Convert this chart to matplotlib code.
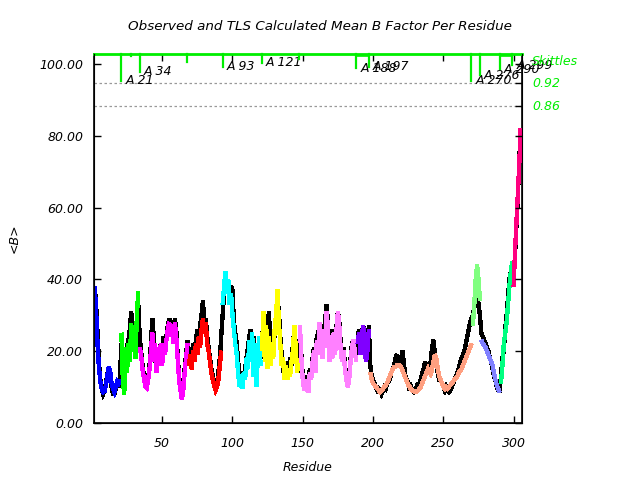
import numpy as np
from matplotlib import pyplot as plt

plt.rcParams['font.family'] = ['DejaVu Sans']
plt.rcParams['font.style'] = 'italic'

# residues 2..305
residues = np.arange(2, 306)

# observed mean B per residue (black)
b_observed = [
    38, 33, 25, 17, 12, 9.5, 8, 9, 11, 13.5, 15, 13, 10, 8, 8, 9.5, 11, 10, 13,
    22, 13, 10, 19, 21, 23, 26, 31, 24, 20, 22, 28, 33,
    24, 20, 16, 13, 11, 10, 12, 16, 22, 29, 24, 18, 15, 21, 20, 22, 18, 24, 22, 24,
    27, 29, 28, 26, 24, 29, 26, 19, 13, 10, 8, 10, 15, 19, 23,
    18, 21, 17, 22, 19, 23, 26, 23, 27, 30, 34, 27, 29, 24, 21, 18, 15, 13, 11, 10,
    11, 14, 18, 24,
    30, 36, 40, 38, 39, 35, 38, 37, 28, 25, 22, 17, 14, 11, 11, 13, 15, 18, 21, 24,
    26, 22, 24, 18, 13, 19, 23, 18,
    22, 29, 26, 17, 28, 31, 18, 23, 19, 25, 29, 35, 31, 24, 19, 15, 13, 14, 17, 15,
    18, 16, 22, 26, 22, 17, 14,
    25, 19, 13, 10, 11, 13, 10, 15, 13, 18, 21, 18, 24, 25, 27, 24, 21, 25, 29, 33,
    27, 22, 19, 23, 26, 22, 27, 31, 28, 22, 18, 21, 16, 13, 11, 13, 18, 22, 23, 21, 19,
    23, 26, 21, 25, 27, 23, 19, 22, 27,
    16, 13, 12, 11, 10, 9, 9.5, 9, 8, 9, 10, 9.5, 11, 11.5, 12, 14, 15, 16, 18, 19,
    17, 16, 18, 20, 16, 13, 12, 11, 9, 10, 9, 8.5, 9, 10, 9, 11, 12, 14, 15, 17,
    16, 15, 14, 17, 21, 23, 19, 16, 14, 12, 12, 11, 10, 9, 10, 9, 8.5, 9, 10, 11,
    12, 13, 14, 15, 17, 18, 19, 20, 22, 24, 26, 28, 29,
    30, 32, 36, 38, 33, 30,
    25, 24, 23, 22, 21, 20, 18, 17, 15, 13, 12, 10, 9, 9,
    13, 18, 20, 26, 30, 35, 40, 42, 44,
    40, 47, 55, 63, 73, 82,
]

# TLS calculated mean B per residue (coloured by segment)
b_tls = [
    38, 31, 22, 15.5, 11.5, 9.5, 8.5, 8.8, 10.5, 13, 15.6, 14.5, 11, 9.5, 8.5, 10, 11.5, 11, 12,
    25, 12, 8, 21, 14, 22, 17, 27.5, 20, 24, 18, 30, 36.5,
    21, 19, 15, 12.5, 10, 9.6, 12, 15, 20, 25, 17, 22, 14, 20, 16, 22, 16, 22, 19, 23,
    26, 28, 24, 27, 22, 28, 24, 18, 12, 9, 6.5, 9, 14, 18, 22,
    16, 19, 15, 20, 17, 22, 19, 24, 21, 26, 29, 25, 28, 22, 20, 17, 14, 12, 10.5, 9,
    10, 12, 16, 20,
    33, 38, 42, 36, 40, 33, 36, 30, 26, 22, 19, 14, 10, 13, 9.5, 14, 12, 18, 15, 23,
    17, 25, 13, 22, 10, 18, 24, 16,
    20, 31, 17, 27, 15, 24, 16, 22, 18, 26, 30, 37, 28, 22, 16, 18, 12, 16, 12, 15,
    13, 17, 20, 27, 21, 14, 18,
    27, 18, 12, 9, 10, 12, 8.5, 14, 12, 17, 20, 14, 23, 19, 28, 23, 18, 26, 21, 31,
    26, 17, 22, 18, 25, 19, 26, 31, 27, 20, 17, 20, 15, 12, 10, 12, 17, 21, 23, 20, 17,
    22, 25, 19, 24, 27, 21, 17, 20, 26,
    14, 12, 11, 10.5, 10, 9.5, 9, 8.5, 8.8, 9.5, 10, 10.5, 11, 12, 13, 14, 15, 15.5, 15.5, 16,
    16, 16, 15.5, 14.5, 13.5, 12.5, 11.5, 10.5, 10, 9.3, 9, 8.8, 8.6, 8.7, 9, 9.5, 10, 11, 12, 13,
    14, 15, 14, 13.5, 15, 17, 19, 18, 15, 13, 12, 11, 10, 9.5, 10, 9.5, 10, 10.5, 11, 11.5,
    12, 12.5, 13, 14, 14.5, 15, 16, 17, 18, 19, 20, 21, 22,
    27, 33, 40, 44, 40, 34,
    23, 22, 21.5, 21, 20, 19, 18, 17, 16, 14, 12, 10.5, 9.5, 8.5,
    11, 16, 22, 25, 28, 33, 38, 42, 45,
    38, 48, 56, 64, 72, 82,
]

# first residue of each TLS segment, and segment colours
seg_first = [2, 21, 34, 69, 93, 121, 148, 189, 198, 271, 277, 291, 300, 306]
seg_colors = ['#0000ff', '#00ff00', '#ff00ff', '#ff0000', '#00ffff', '#ffff00',
              '#ff80ff', '#8000ff', '#ff9f80', '#80ff80', '#8080ff', '#00ff80', '#ff0080']

# skittles: boundary residue, lower end of the marker, label
skittle_res = [21, 28, 34, 68, 93, 121, 147, 188, 197, 270, 276, 290, 299]
skittle_low = [95.3, 102.2, 97.9, 100.6, 99.2, 100.3, 101.4, 98.8, 99.2, 95.3, 96.9, 98.5, 99.7]
skittle_lbl = ['A 21', '', 'A 34', '', 'A 93', 'A 121', '', 'A 188', 'A 197',
               'A 270', 'A 276', 'A 290', 'A 299']
skittle_pairs = [(188, 197), (290, 299)]

# dotted threshold lines
thresh_y = [94.6, 88.3]
thresh_lbl = ['0.92', '0.86']

green = '#00ee00'

fig = plt.figure(figsize=(6.4, 4.8), dpi=100)
ax = fig.add_axes([0.1473, 0.1194, 0.6678, 0.7681])

b_observed = np.array(b_observed)
b_tls = np.array(b_tls)
line_kw = dict(lw=2.4, antialiased=False, solid_joinstyle='miter', solid_capstyle='butt')
ax.plot(residues, b_observed, color='black', zorder=2, **line_kw)
for i, c in enumerate(seg_colors):
    m = (residues >= seg_first[i]) & (residues < seg_first[i + 1])
    ax.plot(residues[m], b_tls[m], color=c, zorder=3, **line_kw)

for y in thresh_y:
    ax.axhline(y, color='#999999', lw=0.9, ls=(0, (2, 2)), zorder=1)

ax.set_xlim(1.7, 305.7)
ax.set_ylim(0, 102.8)
ax.set_xticks([50, 100, 150, 200, 250, 300])
ax.set_yticks([0, 20, 40, 60, 80, 100])
ax.set_yticklabels(['%.2f' % v for v in [0, 20, 40, 60, 80, 100]])
ax.tick_params(direction='in', length=5, width=1, top=True, labelsize=9)
ax.tick_params(axis='y', pad=8)
ax.tick_params(axis='x', pad=10)
for s in ax.spines.values():
    s.set_linewidth(1.2)
ax.spines['top'].set_color(green)
ax.spines['top'].set_linewidth(2)

ax2 = ax.twinx()
ax2.set_ylim(0, 102.8)
ax2.set_yticks([0, 20, 40, 60, 80, 100] + thresh_y)
ax2.set_yticklabels([])
ax2.tick_params(direction='in', length=5, width=1)
ax2.spines['top'].set_visible(False)

# skittle markers
for r, lo, lab in zip(skittle_res, skittle_low, skittle_lbl):
    ax.plot([r, r], [102.8, lo], color=green, lw=1.6, clip_on=False, zorder=4)
    if lab:
        ax.annotate(lab, (r, lo), xytext=(4, 0), textcoords='offset pixels',
                    ha='left', va='center', fontsize=9, color='black',
                    annotation_clip=False)
for a, b in skittle_pairs:
    ax.plot([a, b], [102.2, 102.2], color=green, lw=1.2, clip_on=False, zorder=4)

ax.text(1.025, 100.8, 'Skittles', transform=ax.get_yaxis_transform(),
        color=green, fontsize=9, va='center', ha='left')
for y, lab in zip(thresh_y, thresh_lbl):
    ax.text(1.025, y, lab, transform=ax.get_yaxis_transform(),
            color=green, fontsize=9, va='center', ha='left')

fig.text(0.5, 0.944, 'Observed and TLS Calculated Mean B Factor Per Residue',
         ha='center', va='center', fontsize=9.7)
fig.text(0.48, 0.027, 'Residue', ha='center', va='center', fontsize=9)
fig.text(0.022, 0.504, '<B>', ha='center', va='center', fontsize=9, rotation=90)

fig.savefig('out.png', dpi=100)
